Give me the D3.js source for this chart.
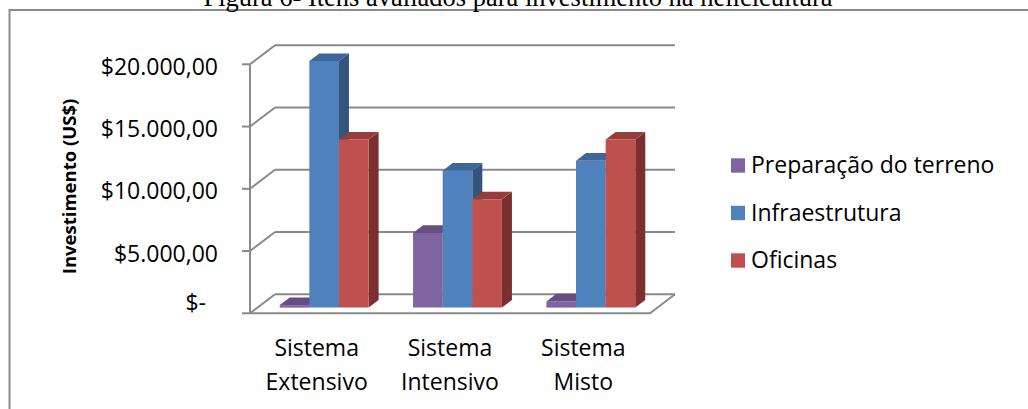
<!DOCTYPE html>
<html>
<head>
<meta charset="utf-8">
<script src="https://cdn.jsdelivr.net/npm/d3@7"></script>
<style>
  html, body { margin: 0; padding: 0; background: #fff; overflow: hidden; }
  svg { display: block; }
</style>
</head>
<body>
<svg id="chart" width="1028" height="409"></svg>
<script>
// Investment per production system
const categories = ["Sistema Extensivo", "Sistema Intensivo", "Sistema Misto"];
const categoryLines = [["Sistema", "Extensivo"], ["Sistema", "Intensivo"], ["Sistema", "Misto"]];
const seriesNames = ["Preparação do terreno", "Infraestrutura", "Oficinas"];
const preparacao = [200, 6000, 500];
const infraestrutura = [19800, 11000, 11800];
const oficinas = [13500, 8700, 13500];
const yTicks = [0, 5000, 10000, 15000, 20000];
const yTickLabels = ["$-", "$5.000,00", "$10.000,00", "$15.000,00", "$20.000,00"];
const titleText = "Figura 6- Itens avaliados para investimento na helicicultura";
const yTitle = "Investimento (US$)";

const seriesValues = [preparacao, infraestrutura, oficinas];
const palette = [
  { front: "#8064a2", top: "#654f82", side: "#55426d" },
  { front: "#4f81bd", top: "#3d6798", side: "#32547f" },
  { front: "#c0504d", top: "#973d3b", side: "#7b302f" }
];

const svg = d3.select("#chart");
const font = "'Open Sans', sans-serif";
const fontSize = 23;
const gridColor = "#8a8a8a";

// outer frame
svg.append("rect")
  .attr("x", 9.5).attr("y", 10)
  .attr("width", 1100).attr("height", 500)
  .attr("fill", "none").attr("stroke", "#8c8c8c").attr("stroke-width", 2);

// caption (runs past the top edge of the page)
svg.append("text")
  .attr("x", 518).attr("y", 5.5)
  .attr("text-anchor", "middle")
  .attr("font-family", "'Liberation Serif', 'Times New Roman', serif")
  .attr("font-size", 26.5)
  .attr("fill", "#000")
  .text(titleText);

// oblique 3D projection: d is depth fraction (0 = front, 1 = back wall)
const DX = 25, DY = 19;
const proj = (x, y, d) => [x + d * DX, y - d * DY];

const x0 = d3.scaleBand().domain(categories).range([250, 650]).padding(0);
const gapFrac = 1 / 6;
const x1 = d3.scaleBand().domain(seriesNames)
  .range([x0.bandwidth() * gapFrac, x0.bandwidth() * (1 - gapFrac)]).padding(0);
const y = d3.scaleLinear().domain([0, 20000]).range([313.3, 64.3]);

const g = svg.append("g");
const line = (pts) => "M" + pts.map(p => p.join(",")).join("L");

// back wall gridlines, side wall diagonals and tick marks
yTicks.forEach(t => {
  g.append("path")
    .attr("d", line([proj(250, y(t), 1), proj(650, y(t), 1)]))
    .attr("stroke", gridColor).attr("stroke-width", 2).attr("fill", "none");
  g.append("path")
    .attr("d", line([[250, y(t)], proj(250, y(t), 1)]))
    .attr("stroke", gridColor).attr("stroke-width", 2).attr("fill", "none");
  g.append("path")
    .attr("d", line([[242, y(t)], [250, y(t)]]))
    .attr("stroke", gridColor).attr("stroke-width", 2).attr("fill", "none");
});

// vertical axis line
g.append("path")
  .attr("d", line([[250, y(20000)], [250, y(0)]]))
  .attr("stroke", gridColor).attr("stroke-width", 2).attr("fill", "none");

// floor outline
g.append("path")
  .attr("d", line([[250, y(0)], [650, y(0)], proj(650, y(0), 1)]))
  .attr("stroke", gridColor).attr("stroke-width", 2).attr("fill", "none");

// bars
const d0 = 0.3, d1 = 0.7;
categories.forEach((cat, ci) => {
  seriesNames.forEach((s, si) => {
    const v = seriesValues[si][ci];
    const xl = x0(cat) + x1(s);
    const xr = xl + x1.bandwidth();
    const yb = y(0), yt = y(v);
    const c = palette[si];
    // right side face
    g.append("path")
      .attr("d", line([proj(xr, yb, d0), proj(xr, yt, d0), proj(xr, yt, d1), proj(xr, yb, d1)]) + "Z")
      .attr("fill", c.side);
    // top face
    g.append("path")
      .attr("d", line([proj(xl, yt, d0), proj(xr, yt, d0), proj(xr, yt, d1), proj(xl, yt, d1)]) + "Z")
      .attr("fill", c.top);
    // front face
    g.append("path")
      .attr("d", line([proj(xl, yb, d0), proj(xr, yb, d0), proj(xr, yt, d0), proj(xl, yt, d0)]) + "Z")
      .attr("fill", c.front);
  });
});

// y tick labels
yTicks.forEach((t, i) => {
  const isZero = t === 0;
  svg.append("text")
    .attr("x", isZero ? 206 : 218)
    .attr("y", isZero ? y(t) - 2.5 : y(t) + 10.5)
    .attr("text-anchor", "end")
    .attr("font-family", font).attr("font-size", fontSize).attr("fill", "#000")
    .text(yTickLabels[i]);
});

// y axis title
svg.append("text")
  .attr("transform", "translate(75.5,186.5) rotate(-90)")
  .attr("text-anchor", "middle")
  .attr("font-family", font).attr("font-weight", "bold").attr("font-size", 18.5).attr("fill", "#000")
  .text(yTitle);

// category labels
categories.forEach((cat, ci) => {
  const cx = x0(cat) + x0.bandwidth() / 2;
  categoryLines[ci].forEach((ln, li) => {
    svg.append("text")
      .attr("x", cx).attr("y", 356 + li * 34)
      .attr("text-anchor", "middle")
      .attr("font-family", font).attr("font-size", fontSize).attr("fill", "#000")
      .text(ln);
  });
});

// legend
const legend = svg.append("g");
seriesNames.forEach((s, si) => {
  const ly = 158.3 + si * 47.5;
  legend.append("rect")
    .attr("x", 731).attr("y", ly).attr("width", 14).attr("height", 14.4)
    .attr("fill", palette[si].front);
  legend.append("text")
    .attr("x", 751).attr("y", ly + 15)
    .attr("font-family", font).attr("font-size", fontSize).attr("fill", "#000")
    .text(s);
});
</script>
</body>
</html>
